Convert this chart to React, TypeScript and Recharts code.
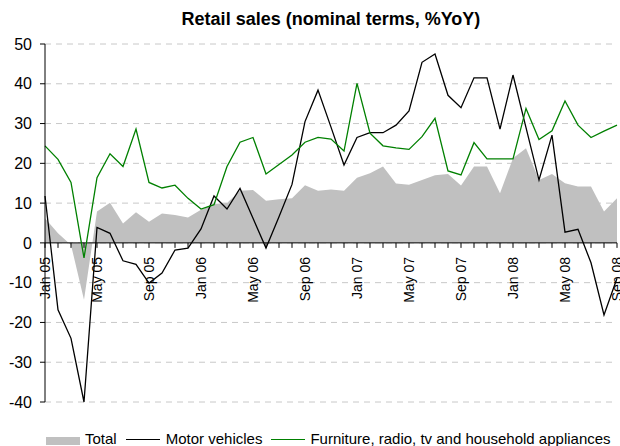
import React from 'react'
import { ComposedChart, Area, Line, XAxis, YAxis, CartesianGrid, ReferenceLine } from 'recharts'

const FONT = '"Liberation Sans", Arial, sans-serif'

// monthly, Jan 05 .. Sep 08
const months = [
  'Jan 05', 'Feb 05', 'Mar 05', 'Apr 05', 'May 05', 'Jun 05', 'Jul 05', 'Aug 05', 'Sep 05', 'Oct 05', 'Nov 05', 'Dec 05',
  'Jan 06', 'Feb 06', 'Mar 06', 'Apr 06', 'May 06', 'Jun 06', 'Jul 06', 'Aug 06', 'Sep 06', 'Oct 06', 'Nov 06', 'Dec 06',
  'Jan 07', 'Feb 07', 'Mar 07', 'Apr 07', 'May 07', 'Jun 07', 'Jul 07', 'Aug 07', 'Sep 07', 'Oct 07', 'Nov 07', 'Dec 07',
  'Jan 08', 'Feb 08', 'Mar 08', 'Apr 08', 'May 08', 'Jun 08', 'Jul 08', 'Aug 08', 'Sep 08'
]

const total = [
  6.2, 2.4, -0.5, -14.3, 7.9, 10.1, 4.9, 7.7, 5.3, 7.4, 7.0, 6.4,
  8.3, 9.8, 10.0, 13.1, 13.3, 10.6, 11.0, 11.2, 14.5, 13.1, 13.4, 13.1,
  16.4, 17.5, 19.2, 14.9, 14.6, 15.8, 17.0, 17.3, 14.4, 19.2, 19.2, 12.5,
  21.3, 23.8, 15.8, 17.3, 15.0, 14.2, 14.2, 7.9, 11.2
]

const motorVehicles = [
  11.8, -16.8, -24, -40, 3.9, 2.4, -4.5, -5.4, -10.1, -7.6, -1.8, -1.3,
  3.5, 11.8, 8.5, 13.7, 6.2, -1.3, 6.6, 14.7, 30.5, 38.4, 29.1, 19.6,
  26.5, 27.7, 27.7, 29.6, 33.2, 45.4, 47.5, 37.1, 34.0, 41.5, 41.5, 28.6,
  42.2, 29, 15.8, 27.1, 2.7, 3.4, -5, -18.1, -8.9
]

const furniture = [
  24.4, 21.0, 15.2, -3.8, 16.4, 22.4, 19.2, 28.6, 15.2, 13.8, 14.5, 11.2,
  8.5, 9.6, 19.2, 25.3, 26.5, 17.3, 19.7, 22.1, 25.3, 26.5, 26.1, 23.1,
  40.1, 27.6, 24.4, 23.9, 23.5, 26.7, 31.3, 18.1, 17.1, 25.2, 21.1, 21.1,
  21.1, 33.8, 26.0, 28.2, 35.7, 29.6, 26.5, 28.1, 29.6
]

const yTicks = [-40, -30, -20, -10, 0, 10, 20, 30, 40, 50]

const TITLE = 'Retail sales (nominal terms, %YoY)'
const SERIES = { total: 'Total', motor: 'Motor vehicles', furniture: 'Furniture, radio, tv and household appliances' }

const WIDTH = 620
const HEIGHT = 446
const Y_MIN = -40
const Y_MAX = 50
const X_AXIS_H = 1
const MARGIN = { top: 44, right: 3, bottom: 44 - X_AXIS_H, left: 0 }
const PLOT_H = HEIGHT - MARGIN.top - MARGIN.bottom - X_AXIS_H
// the category axis sits on the zero line, not at the bottom
const ZERO_Y = MARGIN.top + (PLOT_H * Y_MAX) / (Y_MAX - Y_MIN)

const data = months.map((m, i) => ({
  month: m,
  total: total[i],
  motor: motorVehicles[i],
  furniture: furniture[i]
}))

function MonthTick(props: any) {
  const { x, index, payload } = props
  const ly = ZERO_Y + 14
  return (
    <g>
      <line x1={x} x2={x} y1={ZERO_Y} y2={ZERO_Y + 5} stroke="#000" strokeWidth={1} />
      {index % 4 === 0 && (
        <text
          x={x}
          y={ly}
          dy="0.35em"
          textAnchor="end"
          transform={`rotate(-90, ${x}, ${ly})`}
          fontSize={14}
          fontFamily={FONT}
          fill="#000"
        >
          {payload.value}
        </text>
      )}
    </g>
  )
}

export default function App() {
  return (
    <div style={{ position: 'absolute', left: 0, top: 0, width: WIDTH, height: HEIGHT, background: '#fff', fontFamily: FONT }}>
      <div
        style={{
          position: 'absolute', left: 45, top: 9, width: 572, textAlign: 'center',
          fontSize: 18, fontWeight: 'bold', lineHeight: '20px', color: '#000'
        }}
      >
        {TITLE}
      </div>
      <ComposedChart width={WIDTH} height={HEIGHT} data={data} margin={MARGIN}>
        <CartesianGrid vertical={false} stroke="#c8c8c8" strokeDasharray="6 5" />
        <XAxis
          dataKey="month"
          height={X_AXIS_H}
          interval={0}
          axisLine={false}
          tickLine={false}
          tick={<MonthTick />}
        />
        <YAxis
          type="number"
          domain={[Y_MIN, Y_MAX]}
          ticks={yTicks}
          interval={0}
          width={45}
          axisLine={{ stroke: '#000' }}
          tickLine={{ stroke: '#000' }}
          tickSize={5}
          tickMargin={8}
          tick={{ fill: '#000', fontSize: 16, fontFamily: FONT }}
        />
        <Area
          type="linear"
          dataKey="total"
          name={SERIES.total}
          fill="#c0c0c0"
          fillOpacity={1}
          stroke="none"
          baseValue={0}
          isAnimationActive={false}
        />
        <ReferenceLine y={0} stroke="#000" strokeWidth={1} />
        <Line
          type="linear"
          dataKey="motor"
          name={SERIES.motor}
          stroke="#000"
          strokeWidth={1.3}
          dot={false}
          isAnimationActive={false}
        />
        <Line
          type="linear"
          dataKey="furniture"
          name={SERIES.furniture}
          stroke="#008000"
          strokeWidth={1.3}
          dot={false}
          isAnimationActive={false}
        />
      </ComposedChart>
      <div
        style={{
          position: 'absolute', left: 46, top: 430, display: 'flex', alignItems: 'center',
          fontSize: 15, lineHeight: '18px', color: '#000', whiteSpace: 'nowrap'
        }}
      >
        <span style={{ display: 'inline-block', width: 34, height: 8, background: '#c0c0c0', marginRight: 5, position: 'relative', top: 2 }} />
        <span style={{ marginRight: 9 }}>{SERIES.total}</span>
        <span style={{ display: 'inline-block', width: 34, borderTop: '1.3px solid #000', marginRight: 6 }} />
        <span style={{ marginRight: 9 }}>{SERIES.motor}</span>
        <span style={{ display: 'inline-block', width: 34, borderTop: '1.3px solid #008000', marginRight: 5 }} />
        <span>{SERIES.furniture}</span>
      </div>
    </div>
  )
}
